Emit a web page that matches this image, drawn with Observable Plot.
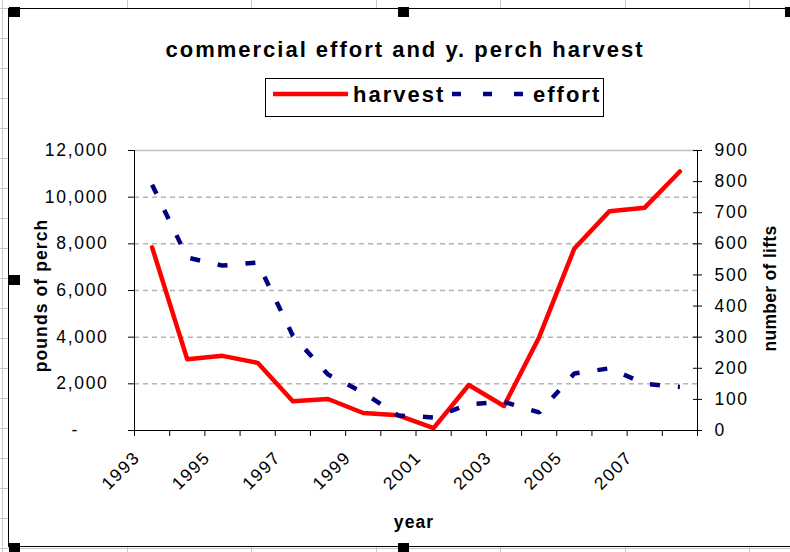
<!DOCTYPE html>
<html>
<head>
<meta charset="utf-8">
<script src="https://cdn.jsdelivr.net/npm/d3@7"></script>
<script src="https://cdn.jsdelivr.net/npm/@observablehq/plot@0.6"></script>
<style>
  html, body { margin: 0; padding: 0; background: #fff; }
  #page {
    position: relative; width: 790px; height: 552px; overflow: hidden;
    font-family: "Liberation Sans", Arial, sans-serif;
    background-color: #fff;
    background-image:
      repeating-linear-gradient(to right, #c8c8c8 0 1px, transparent 1px 124.5px),
      repeating-linear-gradient(to bottom, #c8c8c8 0 1px, transparent 1px 30px);
    background-position: 2px 0, 0 8px;
  }
  #chartArea {
    position: absolute; left: 8px; top: 8px; width: 800px; height: 539px;
    background: #fff; border: 1px solid #000; box-sizing: border-box;
  }
  .handle { position: absolute; width: 11px; height: 10px; background: #000; }
  #header { position: absolute; left: 0; top: 0; }
  #plot { position: absolute; left: 0; top: 130px; }
  #plot svg text { letter-spacing: 1.7px; }
  #plot svg .axis-title text, #plot svg text.axis-title { letter-spacing: 1.1px; }
  #plot svg .axis-title-right text, #plot svg text.axis-title-right { letter-spacing: 0.3px; }
</style>
</head>
<body>
<div id="page">
  <div id="chartArea"></div>
  <div class="handle" style="left:9px;top:7px"></div>
  <div class="handle" style="left:398px;top:7px"></div>
  <div class="handle" style="left:785px;top:7px"></div>
  <div class="handle" style="left:9px;top:275px"></div>
  <div class="handle" style="left:9px;top:543px"></div>
  <div class="handle" style="left:398px;top:543px"></div>
  <svg id="header" width="790" height="130"></svg>
  <div id="plot"></div>
</div>
<script>
// ---- data ----
const title = "commercial effort and y. perch harvest";
const seriesNames = ["harvest", "effort"];
const seriesColors = ["#ff0000", "#000080"];
const years = [1993, 1994, 1995, 1996, 1997, 1998, 1999, 2000, 2001, 2002, 2003, 2004, 2005, 2006, 2007, 2008];
const harvest = [7850, 3050, 3200, 2900, 1250, 1350, 750, 650, 100, 1950, 1050, 4000, 7800, 9400, 9550, 11100];
const effort = [790, 556, 530, 540, 305, 180, 122, 48, 42, 84, 92, 58, 183, 200, 150, 140];
const yearLabels = [1993, 1995, 1997, 1999, 2001, 2003, 2005, 2007];
const leftTicks = [0, 2000, 4000, 6000, 8000, 10000, 12000];
const gridTicks = [2000, 4000, 6000, 8000, 10000];
const rightTicks = [0, 100, 200, 300, 400, 500, 600, 700, 800, 900];
const leftLabel = "pounds of perch";
const rightLabel = "number of lifts";
const xLabel = "year";

// ---- header: title + legend ----
const header = d3.select("#header")
  .attr("font-family", "Liberation Sans, Arial, sans-serif");
header.append("text")
  .attr("x", 405).attr("y", 57)
  .attr("text-anchor", "middle")
  .attr("font-size", 22).attr("font-weight", "bold")
  .attr("letter-spacing", 2)
  .text(title);
header.append("rect")
  .attr("x", 265.5).attr("y", 78.5).attr("width", 338).attr("height", 38)
  .attr("fill", "#fff").attr("stroke", "#000");
header.append("line")
  .attr("x1", 273).attr("x2", 348).attr("y1", 94).attr("y2", 94)
  .attr("stroke", seriesColors[0]).attr("stroke-width", 4.5);
header.append("text")
  .attr("x", 353).attr("y", 102)
  .attr("font-size", 22).attr("font-weight", "bold").attr("letter-spacing", 2)
  .text(seriesNames[0]);
header.append("line")
  .attr("x1", 452).attr("x2", 524).attr("y1", 94).attr("y2", 94)
  .attr("stroke", seriesColors[1]).attr("stroke-width", 4.5)
  .attr("stroke-dasharray", "9,22");
header.append("text")
  .attr("x", 533).attr("y", 102)
  .attr("font-size", 22).attr("font-weight", "bold").attr("letter-spacing", 2)
  .text(seriesNames[1]);

// ---- chart ----
const k = 12000 / 900; // right-axis (lifts) to left-axis (pounds)
const data = years.map((year, i) => ({year, harvest: harvest[i], effort: effort[i]}));
const bounds = [...years.map(y => y - 0.5), years[years.length - 1] + 0.5];
const rightScaled = rightTicks.map(t => t * k);
const fmt = d3.format(",");

const chart = Plot.plot({
  width: 790,
  height: 422,
  marginLeft: 134,
  marginRight: 93,
  marginTop: 20,
  marginBottom: 122,
  x: {domain: [1992.5, 2008.5]},
  y: {domain: [0, 12000]},
  style: {
    fontFamily: "Liberation Sans, Arial, sans-serif",
    fontSize: "17.5px",
    color: "#000",
    background: "transparent",
    overflow: "visible"
  },
  marks: [
    Plot.ruleY(gridTicks, {stroke: "#b4b4b4", strokeWidth: 1.5, strokeDasharray: "5,4"}),
    Plot.ruleY([12000], {stroke: "#c0c0c0", strokeWidth: 1.5}),
    Plot.axisY(leftTicks, {
      anchor: "left", tickSize: 6, tickPadding: 20, label: null, fontSize: 17.5,
      tickFormat: d => d === 0 ? "-\u2007\u2007\u00a0" : fmt(d)
    }),
    Plot.axisY(rightScaled, {
      anchor: "right", tickSize: 4, tickPadding: 13, label: null, fontSize: 17.5,
      tickFormat: d => String(Math.round(d / k))
    }),
    Plot.tickY(rightScaled, {y: d => d, insetLeft: 559, stroke: "#000"}),
    Plot.tickX(bounds, {x: d => d, insetTop: 280, insetBottom: -6, stroke: "#000"}),
    Plot.axisX(yearLabels, {
      anchor: "bottom", tickSize: 0, tickRotate: -45, tickPadding: 24, dx: -15, label: null, fontSize: 17.5,
      tickFormat: d => String(d)
    }),
    Plot.ruleX([1992.5, 2008.5], {stroke: "#000"}),
    Plot.ruleY([0], {stroke: "#000"}),
    Plot.line(data, {x: "year", y: "harvest", stroke: seriesColors[0], strokeWidth: 4.5}),
    Plot.line(data, {x: "year", y: d => d.effort * k, stroke: seriesColors[1], strokeWidth: 4.5,
      strokeDasharray: "10,18", strokeLinecap: "butt", strokeLinejoin: "miter"}),
    Plot.text([leftLabel], {frameAnchor: "left", textAnchor: "middle", rotate: -90, dx: -93, dy: 5,
      fontWeight: "bold", fontSize: 17.5, className: "axis-title"}),
    Plot.text([rightLabel], {frameAnchor: "right", textAnchor: "middle", rotate: -90, dx: 73, dy: -2,
      fontWeight: "bold", fontSize: 17.5, className: "axis-title-right"}),
    Plot.text([xLabel], {frameAnchor: "bottom", dx: -2, dy: 97, lineAnchor: "bottom",
      fontWeight: "bold", fontSize: 17.5, className: "axis-title"})
  ]
});
document.getElementById("plot").appendChild(chart);
</script>
</body>
</html>
